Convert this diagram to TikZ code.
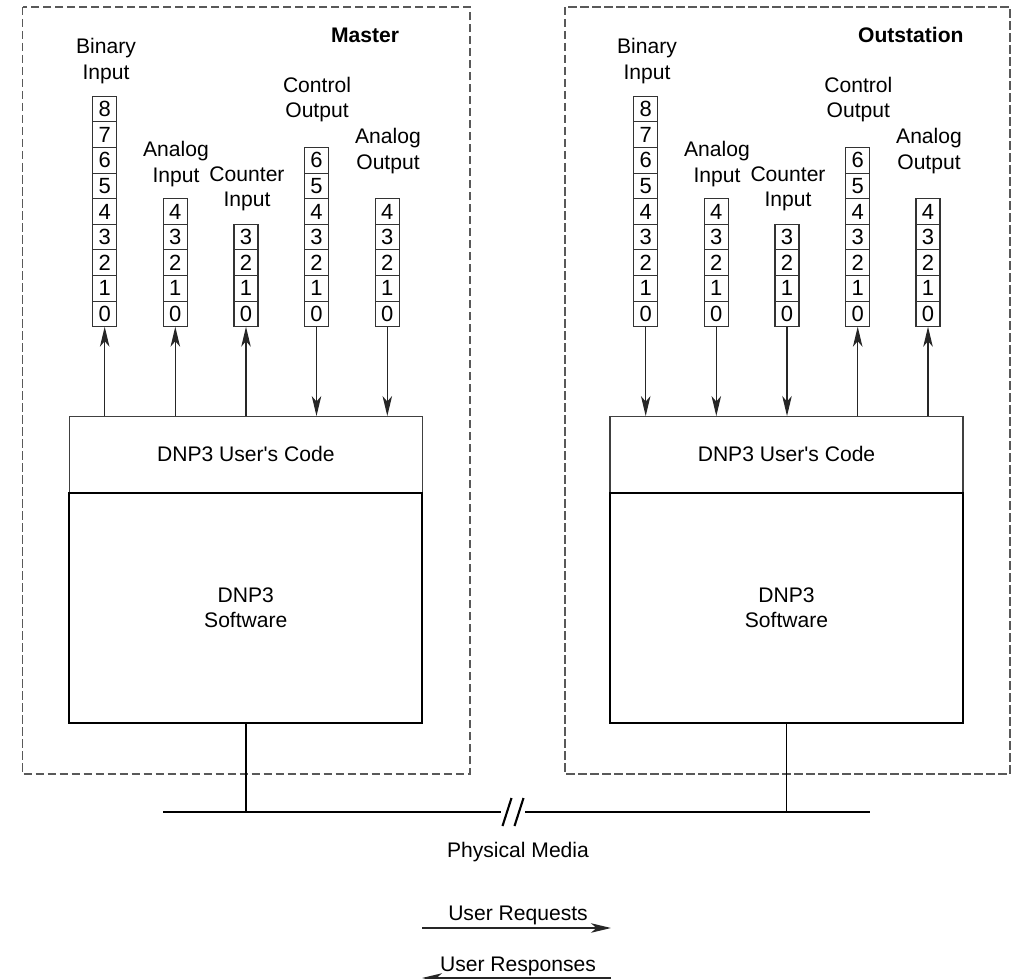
\documentclass[tikz,border=0pt]{standalone}
\usepackage{fontspec}
\setmainfont{Liberation Sans}
\usetikzlibrary{positioning, arrows.meta}
\tikzset{
  groupbox/.style={draw=black!65, line width=0.6pt, dash pattern=on 0.17cm off 0.07cm},
  codebox/.style={rectangle, draw=black!75, line width=0.6pt, minimum width=7.06cm, minimum height=1.534cm, inner sep=0pt, outer sep=0pt},
  softbox/.style={rectangle, draw=black, line width=1.3pt, minimum width=7.06cm, minimum height=4.6cm, inner sep=0pt, outer sep=0pt, align=center},
  cell/.style={rectangle, draw=black!80, line width=0.6pt, minimum width=0.48cm, minimum height=0.512cm, inner sep=0pt, outer sep=0pt, font=\fontsize{12.5}{14.6}\selectfont},
  iotext/.style={align=center},
  sidetitle/.style={font=\fontsize{12}{14.6}\selectfont\bfseries},
  arrow/.style={draw=black!85, line width=0.7pt, -{Stealth[length=4mm, width=1.9mm, inset=1.1mm]}},
  busline/.style={line width=1.2pt}
}
\begin{document}
\begin{tikzpicture}[x=0.2mm, y=-0.2mm, every node/.style={font=\fontsize{12}{14.6}\selectfont}]
    \useasboundingbox (0,0) rectangle (1015,979);

    % Master and outstation frames
    \draw[groupbox] (22.7,7) rectangle (470,774);
    \draw[groupbox] (565,7) rectangle (1010,774);
    \node[sidetitle] (mtitle) at (365,35) {Master};
    \node[sidetitle] (otitle) at (910.8,35) {Outstation};

    % Master blocks
    \node[codebox] (mcode) at (245.8,454.4) {DNP3 User\textquotesingle s Code};
    \node[softbox, below=0pt of mcode] (msoft) {DNP3\\Software};

    % Master points
    \foreach \k in {0,...,8} \node[cell] (mbin\k) at (104.7,{313.9-25.6*\k}) {\k};
    \foreach \k in {0,...,4} \node[cell] (main\k) at (175.3,{313.9-25.6*\k}) {\k};
    \foreach \k in {0,...,3} \node[cell] (mcnt\k) at (246,{313.9-25.6*\k}) {\k};
    \foreach \k in {0,...,6} \node[cell] (mctl\k) at (316.5,{313.9-25.6*\k}) {\k};
    \foreach \k in {0,...,4} \node[cell] (maout\k) at (387.3,{313.9-25.6*\k}) {\k};

    \node[iotext] (mbinlbl) at (106,61) {Binary\\Input};
    \node[iotext] (mainlbl) at (176,164) {Analog\\Input};
    \node[iotext] (mcntlbl) at (247,189) {Counter\\Input};
    \node[iotext] (mctllbl) at (317,99.5) {Control\\Output};
    \node[iotext] (maoutlbl) at (388,151) {Analog\\Output};

    % Master arrows
    \draw[arrow] (mbin0.south |- mcode.north) -- (mbin0.south);
    \draw[arrow] (main0.south |- mcode.north) -- (main0.south);
    \draw[arrow] (mcnt0.south |- mcode.north) -- (mcnt0.south);
    \draw[arrow] (mctl0.south) -- (mctl0.south |- mcode.north);
    \draw[arrow] (maout0.south) -- (maout0.south |- mcode.north);

    % Outstation blocks
    \node[codebox] (ocode) at (786.5,454.4) {DNP3 User\textquotesingle s Code};
    \node[softbox, below=0pt of ocode] (osoft) {DNP3\\Software};

    % Outstation points
    \foreach \k in {0,...,8} \node[cell] (obin\k) at (645.7,{313.9-25.6*\k}) {\k};
    \foreach \k in {0,...,4} \node[cell] (oain\k) at (716.3,{313.9-25.6*\k}) {\k};
    \foreach \k in {0,...,3} \node[cell] (ocnt\k) at (787,{313.9-25.6*\k}) {\k};
    \foreach \k in {0,...,6} \node[cell] (octl\k) at (857.7,{313.9-25.6*\k}) {\k};
    \foreach \k in {0,...,4} \node[cell] (oaout\k) at (928,{313.9-25.6*\k}) {\k};

    \node[iotext] (obinlbl) at (647,61) {Binary\\Input};
    \node[iotext] (oainlbl) at (717,164) {Analog\\Input};
    \node[iotext] (ocntlbl) at (788,189) {Counter\\Input};
    \node[iotext] (octllbl) at (858.3,99.5) {Control\\Output};
    \node[iotext] (oaoutlbl) at (929,151) {Analog\\Output};

    % Outstation arrows
    \draw[arrow] (obin0.south) -- (obin0.south |- ocode.north);
    \draw[arrow] (oain0.south) -- (oain0.south |- ocode.north);
    \draw[arrow] (ocnt0.south) -- (ocnt0.south |- ocode.north);
    \draw[arrow] (octl0.south |- ocode.north) -- (octl0.south);
    \draw[arrow] (oaout0.south |- ocode.north) -- (oaout0.south);

    % Physical media
    \coordinate (busL) at (163,812);
    \coordinate (busR) at (870,812);
    \coordinate (brk) at (513,812);
    \draw[busline] (busL) -- ([xshift=-2.4mm]brk);
    \draw[busline] ([xshift=2.4mm]brk) -- (busR);
    \draw[busline] ([shift={(-10.5,14)}]brk) -- ++(9,-28);
    \draw[busline] ([shift={(1.5,14)}]brk) -- ++(9,-28);
    \draw[line width=1pt] (msoft.south) -- (msoft.south |- busL);
    \draw[line width=1pt] (osoft.south) -- (osoft.south |- busR);
    \node (media) at (518,852) {Physical Media};

    % Legend
    \node (req) at (518,915.7) {User Requests};
    \coordinate (reqL) at (422,928);
    \coordinate (reqR) at (611,928);
    \draw[arrow, line width=0.9pt] (reqL) -- (reqR);
    \node (resp) at (518,966.7) {User Responses};
    \coordinate (respL) at (422,978);
    \coordinate (respR) at (611,978);
    \draw[arrow, line width=0.9pt] (respR) -- (respL);

\end{tikzpicture}
\end{document}
